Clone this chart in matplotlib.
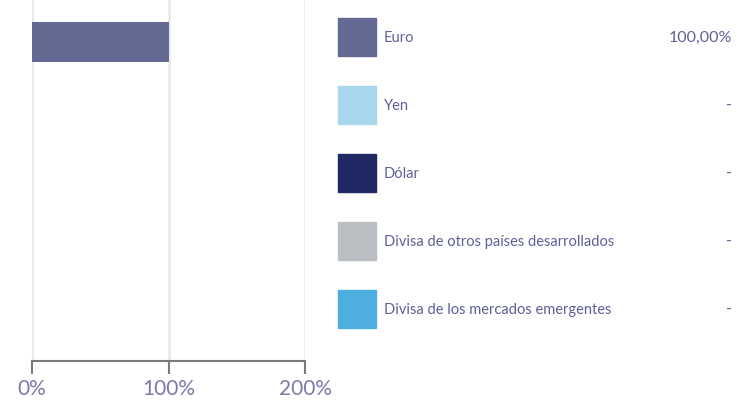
import matplotlib
matplotlib.use("Agg")
import matplotlib.pyplot as plt
from matplotlib.patches import Rectangle

categories = ["Euro", "Yen", "Dólar", "Divisa de otros países desarrollados",
              "Divisa de los mercados emergentes"]
values = [100.0, 0.0, 0.0, 0.0, 0.0]
value_labels = ["100,00%", "-", "-", "-", "-"]
colors = ["#636993", "#a8d7ee", "#1f2862", "#bbbec2", "#4faee0"]
x_ticks = [0, 100, 200]
x_tick_labels = ["0%", "100%", "200%"]

text_color = "#5e6096"
W, H = 745, 401
fig = plt.figure(figsize=(W / 100, H / 100), dpi=100)
plt.rcParams['font.family'] = ['Lato', 'DejaVu Sans']

ax = fig.add_axes([32 / W, 40 / H, (305 - 32) / W, (H - 40) / H])
ypos = list(range(len(categories)))
ax.barh(ypos, values, height=0.56, color=colors, zorder=2)
ax.set_xlim(0, 200)
ax.set_ylim(4.5, -0.59)
ax.set_xticks(x_ticks)
ax.set_xticklabels(x_tick_labels, fontsize=15, color="#7a7aa8")
ax.set_yticks([])
ax.grid(axis="x", color="#e8e8e8", linewidth=1.8, zorder=0)
for s in ["top", "right", "left"]:
    ax.spines[s].set_visible(False)
ax.spines["bottom"].set_color("#7a7a7a")
ax.spines["bottom"].set_linewidth(1.5)
ax.tick_params(axis="x", length=9, width=1.5, color="#7a7a7a", pad=4)

# legend-like table on the right
row_y = [37, 105, 173, 241, 309]
for cat, lab, col, yc in zip(categories, value_labels, colors, row_y):
    fig.patches.append(Rectangle((338 / W, 1 - (yc + 19) / H), 38 / W, 38 / H,
                                 transform=fig.transFigure, color=col))
    fig.text(384 / W, 1 - (yc + 1) / H, cat, fontsize=10.5, color=text_color,
             va="center", ha="left")
    fig.text(732 / W, 1 - (yc + 1) / H, lab, fontsize=11.5, color=text_color,
             va="center", ha="right")

fig.savefig("out.png", dpi=100)
